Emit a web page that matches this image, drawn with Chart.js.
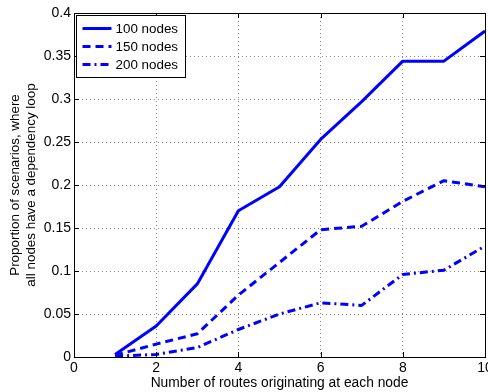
<!DOCTYPE html>
<html>
<head>
<meta charset="utf-8">
<script src="https://cdn.jsdelivr.net/npm/chart.js@4/dist/chart.umd.min.js"></script>
<style>
  html, body { margin: 0; padding: 0; background: #fff; }
  canvas { display: block; }
</style>
</head>
<body>
<canvas id="loopChart" width="488" height="392"></canvas>
<script>
// routes per node
var routes = [1, 2, 3, 4, 5, 6, 7, 8, 9, 10];

// proportion of scenarios with a dependency loop at every node
var nodes100 = [0.003, 0.036, 0.085, 0.170, 0.198, 0.253, 0.297, 0.344, 0.344, 0.379];
var nodes150 = [0.002, 0.015, 0.027, 0.072, 0.110, 0.148, 0.152, 0.181, 0.205, 0.198];
var nodes200 = [0.001, 0.003, 0.011, 0.032, 0.050, 0.063, 0.060, 0.096, 0.101, 0.129];

var seriesNames = ['100 nodes', '150 nodes', '200 nodes'];
var xTickLabels = ['0', '2', '4', '6', '8', '10'];
var yTickLabels = ['0', '0.05', '0.1', '0.15', '0.2', '0.25', '0.3', '0.35', '0.4'];

var FONT = "'Liberation Sans', Arial, Helvetica, sans-serif";

function toPoints(vals) {
       return routes.map(function (r, i) { return { x: r, y: vals[i] }; });
}

function lineSet(label, vals, dash) {
       return {
              label: label,
              data: toPoints(vals),
              borderColor: '#0000ff',
              backgroundColor: '#0000ff',
              borderWidth: 3,
              borderDash: dash,
              borderCapStyle: 'butt',
              borderJoinStyle: 'round',
              pointRadius: 0,
              tension: 0,
              fill: false
       };
}

// black frame round the plot with inward ticks on all four sides
var framePlugin = {
       id: 'frame',
       afterDatasetsDraw: function (chart) {
              var ctx = chart.ctx, a = chart.chartArea;
              var xs = chart.scales.x, ys = chart.scales.y;
              var len = 5;
              ctx.save();
              ctx.strokeStyle = '#000';
              ctx.lineWidth = 1;
              ctx.setLineDash([]);
              ctx.beginPath();
              xs.ticks.forEach(function (t) {
                     var px = Math.round(xs.getPixelForValue(t.value)) + 0.5;
                     ctx.moveTo(px, a.bottom); ctx.lineTo(px, a.bottom - len);
                     ctx.moveTo(px, a.top); ctx.lineTo(px, a.top + len);
              });
              ys.ticks.forEach(function (t) {
                     var py = Math.round(ys.getPixelForValue(t.value)) + 0.5;
                     ctx.moveTo(a.left, py); ctx.lineTo(a.left + len, py);
                     ctx.moveTo(a.right, py); ctx.lineTo(a.right - len, py);
              });
              ctx.stroke();
              ctx.strokeRect(Math.round(a.left) + 0.5, Math.round(a.top) + 0.5,
                     Math.round(a.right - a.left), Math.round(a.bottom - a.top));
              ctx.restore();
       }
};

// legend box in the upper-left corner of the plot
var boxLegend = {
       id: 'boxLegend',
       afterDraw: function (chart) {
              var ctx = chart.ctx, a = chart.chartArea;
              var bx = Math.round(a.left) + 2.5, by = Math.round(a.top) + 2.5;
              var bw = 109, bh = 62, rowH = 18;
              ctx.save();
              ctx.fillStyle = '#fff';
              ctx.fillRect(bx, by, bw, bh);
              ctx.strokeStyle = '#000';
              ctx.lineWidth = 1;
              ctx.strokeRect(bx, by, bw, bh);
              ctx.font = '13.4px ' + FONT;
              ctx.textBaseline = 'middle';
              ctx.textAlign = 'left';
              chart.data.datasets.forEach(function (ds, i) {
                     var yy = by + 13 + i * rowH;
                     ctx.strokeStyle = ds.borderColor;
                     ctx.lineWidth = ds.borderWidth;
                     ctx.lineCap = 'butt';
                     ctx.setLineDash(ds.borderDash || []);
                     ctx.beginPath();
                     ctx.moveTo(bx + 6, yy);
                     ctx.lineTo(bx + 35, yy);
                     ctx.stroke();
                     ctx.setLineDash([]);
                     ctx.fillStyle = '#000';
                     ctx.fillText(ds.label, bx + 39, yy + 1);
              });
              ctx.restore();
       }
};

var chart = new Chart(document.getElementById('loopChart'), {
       type: 'line',
       data: {
              datasets: [
                     lineSet(seriesNames[0], nodes100, []),
                     lineSet(seriesNames[1], nodes150, [8, 5]),
                     lineSet(seriesNames[2], nodes200, [8, 4, 2, 4])
              ]
       },
       options: {
              responsive: false,
              animation: false,
              events: [],
              layout: { padding: { top: 13, right: 3, left: 0, bottom: 0 } },
              plugins: {
                     legend: { display: false },
                     tooltip: { enabled: false }
              },
              scales: {
                     x: {
                            type: 'linear',
                            min: 0,
                            max: 10,
                            offset: false,
                            ticks: {
                                   stepSize: 2,
                                   padding: 3,
                                   color: '#000',
                                   maxRotation: 0,
                                   font: { family: FONT, size: 14 },
                                   callback: function (v, i) { return xTickLabels[i]; }
                            },
                            grid: { color: '#8a8a8a', lineWidth: 1, drawTicks: false },
                            border: { display: false, dash: [1, 3] },
                            title: {
                                   display: true,
                                   text: 'Number of routes originating at each node',
                                   color: '#000',
                                   font: { family: FONT, size: 13.8 },
                                   padding: { top: 0, bottom: 1 }
                            },
                            afterFit: function (s) {
                                   s.height = 35;
                                   s.paddingLeft = 0;
                                   s.paddingRight = 0;
                            }
                     },
                     y: {
                            min: 0,
                            max: 0.4,
                            ticks: {
                                   stepSize: 0.05,
                                   padding: 3,
                                   color: '#000',
                                   font: { family: FONT, size: 14 },
                                   callback: function (v, i) { return yTickLabels[i]; }
                            },
                            grid: { color: '#8a8a8a', lineWidth: 1, drawTicks: false },
                            border: { display: false, dash: [1, 3] },
                            title: {
                                   display: true,
                                   text: ['Proportion of scenarios, where', 'all nodes have a dependency loop'],
                                   color: '#000',
                                   font: { family: FONT, size: 13.4, lineHeight: 1.15 },
                                   padding: { top: 8, bottom: 0 }
                            },
                            afterFit: function (s) {
                                   s.width = 74;
                                   s.paddingTop = 0;
                                   s.paddingBottom = 0;
                            }
                     }
              }
       },
       plugins: [framePlugin, boxLegend]
});
</script>
</body>
</html>
